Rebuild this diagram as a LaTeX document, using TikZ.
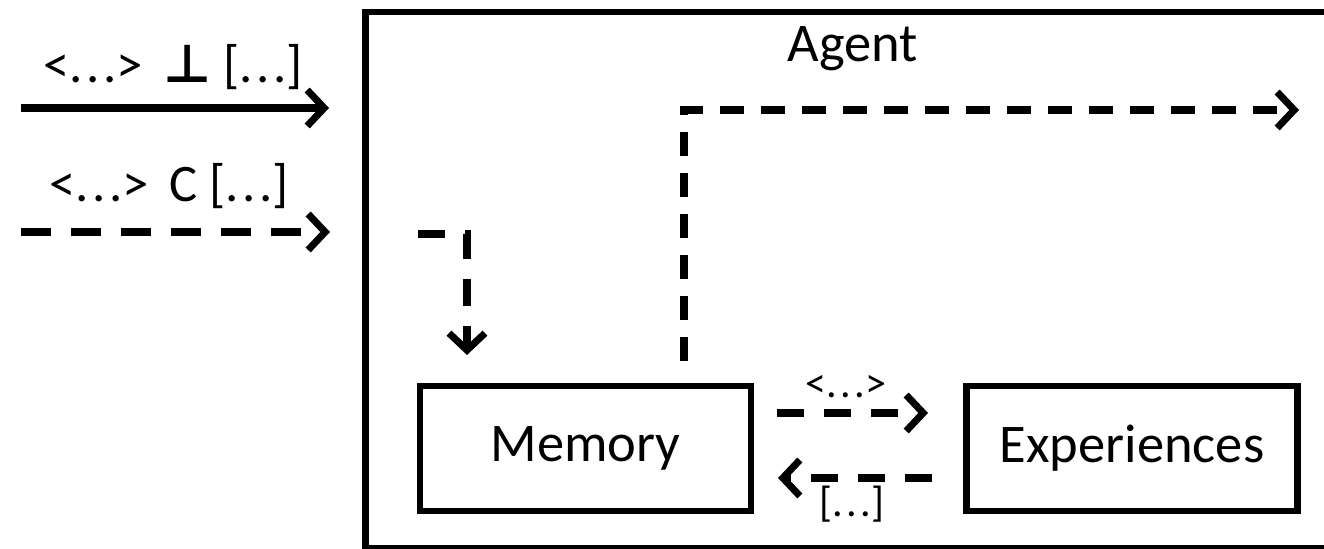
\documentclass[tikz,border=0pt]{standalone}
\usepackage{fontspec}
\setmainfont{Carlito}
\newfontfamily\symfont{DejaVu Sans}
\usetikzlibrary{arrows.meta}

\newcommand\ddd{.\kern1pt.\kern1pt.}

\tikzset{
  box/.style={draw, line width=1.8pt, minimum width=3.31cm, minimum height=1.25cm,
    inner sep=0pt, font=\fontsize{15.5}{18}\selectfont},
  flow/.style={line width=2pt, -{Straight Barb[length=1.7mm,width=3.6mm]}},
  dashflow/.style={flow, dash pattern=on 0.27cm off 0.2cm},
  longflow/.style={flow, dash pattern=on 0.24cm off 0.17cm},
  tag/.style={inner sep=0pt, font=\fontsize{15}{18}\selectfont},
  smalltag/.style={inner sep=0pt, font=\fontsize{12}{14}\selectfont},
}

\begin{document}
\begin{tikzpicture}
                \useasboundingbox (0,0) rectangle (13.24,5.49);

                % Legend: solid and dashed flows
                \coordinate (s0) at (0.21,4.41);
                \coordinate (s1) at (3.29,4.41);
                \draw [flow] (s0) -- (s1);%
                \node [tag, anchor=base] (stag) at (1.73,4.66) {<\ddd>\ \,{\symfont\bfseries ⊥}\ [\ddd]};%

                \coordinate (d0) at (0.21,3.17);
                \coordinate (d1) at (3.30,3.17);
                \draw [flow, dash pattern=on 0.3cm off 0.2cm] (d0) -- (d1);%
                \node [tag, anchor=base] (dtag) at (1.69,3.47) {<\ddd>\ \,C [\ddd]};%

                % Agent frame, runs off the page at right and bottom
                \begin{scope}
                \clip (0,0) rectangle (13.24,5.49);
                \draw [line width=1.8pt] (3.655,0.01) rectangle (13.60,5.37);%
                \end{scope}
                \node [font=\fontsize{15.5}{18}\selectfont] (agent) at (8.53,5.00) {Agent};%

                % Memory and Experiences
                \node [box] (mem) at (5.855,1.005) {Memory};%
                \node [box] (exp) at (11.32,1.005) {Experiences};%

                % Output of the agent
                \coordinate (o0) at (6.84,1.88);
                \coordinate (o1) at (6.84,4.39);
                \coordinate (o2) at (12.99,4.39);
                \draw [longflow] (o0) -- (o1) -- (o2);%

                % Input into memory
                \coordinate (i0) at (4.18,3.15);
                \coordinate (i1) at (4.67,3.15);
                \coordinate (i2) at (4.67,1.94);
                \draw [dashflow] (i0) -- (i1) -- (i2);%

                % Memory -> Experiences
                \coordinate (m0) at (7.77,1.36);
                \coordinate (m1) at (9.28,1.36);
                \draw [dashflow] (m0) -- (m1);%
                \node [smalltag] (mtag) at (8.46,1.62) {<\ddd>};%

                % Experiences -> Memory
                \coordinate (e0) at (9.32,0.71);
                \coordinate (e1) at (7.78,0.71);
                \draw [dashflow] (e0) -- (e1);%
                \node [smalltag] (etag) at (8.52,0.45) {[\ddd]};%
\end{tikzpicture}
\end{document}
